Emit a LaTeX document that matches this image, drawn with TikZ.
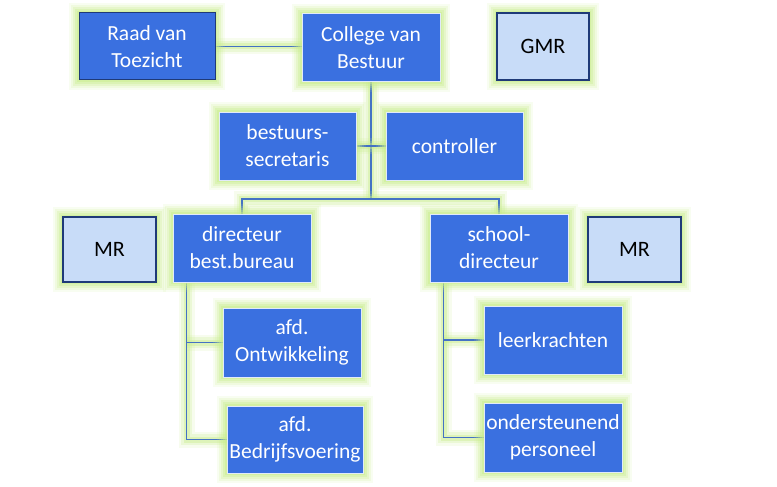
\documentclass[tikz,border=0pt]{standalone}
\usepackage{fontspec}
\setmainfont{Carlito}
\usetikzlibrary{backgrounds}
\definecolor{boxblue}{HTML}{3A70E0}
\definecolor{lightbox}{HTML}{C8DCF8}
\definecolor{darkedge}{HTML}{1F3A78}
\definecolor{glowgreen}{HTML}{C8EC8C}
\definecolor{linkblue}{HTML}{4472C4}
\tikzset{
  glowbox/.style={
    preaction={draw=glowgreen,line width=20pt,opacity=0.12},
    preaction={draw=glowgreen,line width=16pt,opacity=0.18},
    preaction={draw=glowgreen,line width=12pt,opacity=0.25},
    preaction={draw=glowgreen,line width=8pt,opacity=0.35},
    preaction={draw=glowgreen,line width=4pt,opacity=0.45}},
  orgbox/.style={glowbox,rectangle,fill=boxblue,draw=white!85!boxblue,line width=1pt,
    text=white,align=center,inner sep=0pt,
    font=\fontsize{21.5}{27}\selectfont},
  mrbox/.style={glowbox,rectangle,fill=lightbox,draw=darkedge,line width=1.2pt,
    text=black,align=center,inner sep=0pt,
    font=\fontsize{22}{27}\selectfont},
  link/.style={draw=linkblue,line width=1.3pt,
    preaction={draw=glowgreen,line width=16pt,opacity=0.15},
    preaction={draw=glowgreen,line width=11pt,opacity=0.25},
    preaction={draw=glowgreen,line width=6pt,opacity=0.4}},
}
\begin{document}
\begin{tikzpicture}[x=1pt,y=-1pt]
\useasboundingbox (0,0) rectangle (777,487);
\node[orgbox,draw=darkedge,minimum width=136pt,minimum height=67pt] (rvt) at (147,46.5) {Raad van\\Toezicht};
\node[orgbox,minimum width=138pt,minimum height=68pt] (cvb) at (371,48) {College van\\Bestuur};
\node[mrbox,minimum width=92pt,minimum height=67pt] (gmr) at (543,46.5) {GMR};
\node[orgbox,minimum width=137pt,minimum height=68pt] (sec) at (287.5,146) {bestuurs-\\secretaris};
\node[orgbox,minimum width=137pt,minimum height=68pt] (ctrl) at (454.5,146) {controller};
\node[mrbox,minimum width=93pt,minimum height=65pt] (mrl) at (109.5,249.5) {MR};
\node[orgbox,minimum width=138pt,minimum height=68pt] (dir) at (242,248) {directeur\\best.bureau};
\node[orgbox,minimum width=138pt,minimum height=68pt] (school) at (499,248) {school-\\directeur};
\node[mrbox,minimum width=93pt,minimum height=65pt] (mrr) at (634.5,249.5) {MR};
\node[orgbox,minimum width=138pt,minimum height=69pt] (ontw) at (292,342.5) {afd.\\Ontwikkeling};
\node[orgbox,minimum width=136pt,minimum height=67pt] (bedr) at (295,439.5) {afd.\\Bedrijfsvoering};
\node[orgbox,minimum width=138pt,minimum height=68pt] (leer) at (553,340) {leerkrachten};
\node[orgbox,minimum width=138pt,minimum height=69pt] (onder) at (553,437.5) {ondersteunend\\personeel};
\coordinate (bar) at (371,199);
\coordinate (dirtrunk) at ([xshift=14pt]dir.south west);
\coordinate (schooltrunk) at ([xshift=14pt]school.south west);
\begin{scope}[on background layer]
\draw[link] (rvt.east) -- (rvt.east -| cvb.west);
\draw[link] (cvb.south) -- (bar);
\draw[link] (sec.east) -- (ctrl.west);
\draw[link] (dir.north) |- (bar) -| (school.north);
\draw[link] (dirtrunk) |- (bedr.west);
\draw[link] (dirtrunk |- ontw.west) -- (ontw.west);
\draw[link] (schooltrunk) |- (onder.west);
\draw[link] (schooltrunk |- leer.west) -- (leer.west);
\end{scope}
\end{tikzpicture}
\end{document}
